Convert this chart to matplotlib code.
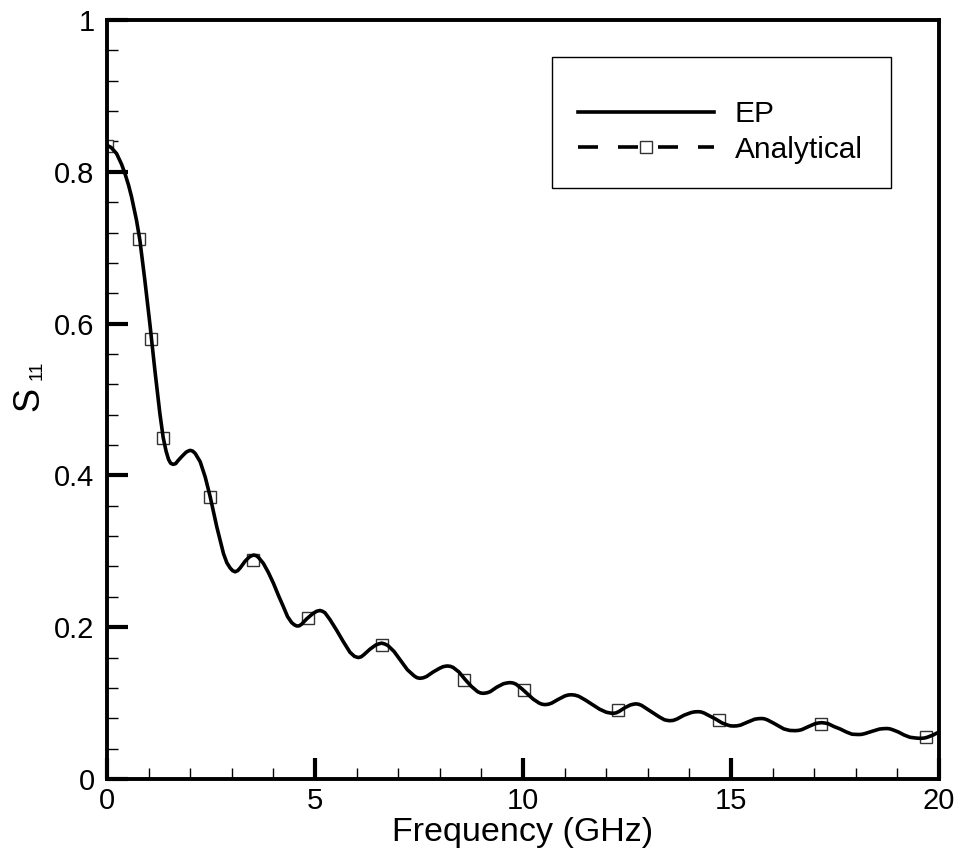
import matplotlib
matplotlib.use("Agg")
import matplotlib.pyplot as plt
from matplotlib.lines import Line2D
from matplotlib.patches import Rectangle
from matplotlib.ticker import MultipleLocator, FormatStrFormatter

plt.rcParams['font.family'] = ['Liberation Sans', 'DejaVu Sans']
plt.rcParams['lines.scale_dashes'] = False

# ---- data ----
ep_freq = [0, 0.1, 0.23, 0.35, 0.43, 0.52, 0.59, 0.71, 0.79, 0.91, 1.03, 1.15, 1.27, 1.35, 1.42, 1.48, 1.53, 1.59,
           1.65, 1.7, 1.8, 1.9, 1.95, 2.0, 2.06,
           2.12, 2.24, 2.36, 2.48, 2.64, 2.80, 2.88, 2.96, 3.02, 3.08,
           3.14, 3.2, 3.32, 3.42, 3.47, 3.52, 3.58,
           3.64, 3.76, 3.88, 4.00, 4.12, 4.24, 4.34, 4.44, 4.50, 4.56, 4.62,
           4.68, 4.80, 4.95, 5.04, 5.12, 5.18,
           5.24, 5.36, 5.52, 5.68, 5.84, 5.95, 6.04, 6.11,
           6.18, 6.32, 6.46, 6.53, 6.60, 6.67,
           6.75, 6.90, 7.06, 7.22, 7.38, 7.45, 7.52, 7.60,
           7.68, 7.84, 8.00, 8.08, 8.17, 8.25,
           8.32, 8.46, 8.61, 8.76, 8.91, 8.98, 9.05, 9.13,
           9.21, 9.37, 9.53, 9.61, 9.69, 9.76,
           9.83, 9.97, 10.11, 10.25, 10.39, 10.46, 10.53, 10.61,
           10.69, 10.85, 11.01, 11.09, 11.17, 11.25,
           11.34, 11.50, 11.67, 11.84, 12.0, 12.09, 12.17, 12.24,
           12.31, 12.45, 12.58, 12.65, 12.71, 12.78,
           12.85, 12.99, 13.13, 13.27, 13.40, 13.47, 13.53, 13.61,
           13.70, 13.87, 14.04, 14.12, 14.21, 14.28,
           14.35, 14.49, 14.63, 14.78, 14.92, 14.99, 15.06, 15.14,
           15.23, 15.40, 15.57, 15.66, 15.74, 15.80,
           15.87, 16.01, 16.14, 16.27, 16.41, 16.48, 16.54, 16.62,
           16.70, 16.86, 17.02, 17.10, 17.18, 17.25,
           17.33, 17.48, 17.62, 17.77, 17.91, 17.98, 18.06, 18.14,
           18.23, 18.40, 18.57, 18.66, 18.74, 18.81,
           18.88, 19.02, 19.16, 19.30, 19.44, 19.51, 19.58, 19.65,
           19.72, 19.86, 20.0]
ep_s11 = [0.835, 0.832, 0.824, 0.810, 0.798, 0.782, 0.767, 0.736, 0.710, 0.657, 0.600, 0.539, 0.482, 0.450, 0.432, 0.421, 0.416, 0.4145,
          0.4155, 0.419, 0.425, 0.4305, 0.432, 0.433, 0.432,
          0.429, 0.418, 0.398, 0.372, 0.332, 0.297, 0.285, 0.278, 0.2745, 0.273,
          0.2745, 0.278, 0.287, 0.2925, 0.294, 0.295, 0.2945,
          0.292, 0.284, 0.272, 0.258, 0.242, 0.227, 0.214, 0.206, 0.2033, 0.2016, 0.2018,
          0.204, 0.211, 0.218, 0.221, 0.222, 0.221,
          0.219, 0.210, 0.196, 0.181, 0.167, 0.1615, 0.160, 0.161,
          0.164, 0.171, 0.1765, 0.178, 0.179, 0.178,
          0.176, 0.168, 0.156, 0.144, 0.136, 0.1335, 0.1327, 0.1333,
          0.135, 0.141, 0.146, 0.148, 0.1489, 0.1485,
          0.147, 0.141, 0.131, 0.122, 0.115, 0.1133, 0.1129, 0.1135,
          0.115, 0.121, 0.1255, 0.1265, 0.127, 0.1265,
          0.125, 0.119, 0.112, 0.105, 0.100, 0.0985, 0.098, 0.0985,
          0.100, 0.105, 0.1095, 0.1107, 0.111, 0.1105,
          0.109, 0.104, 0.098, 0.092, 0.088, 0.087, 0.0865, 0.0872,
          0.089, 0.094, 0.0975, 0.0985, 0.099, 0.0985,
          0.097, 0.092, 0.087, 0.082, 0.078, 0.0772, 0.0768, 0.0772,
          0.079, 0.084, 0.0875, 0.0884, 0.0887, 0.0883,
          0.087, 0.083, 0.079, 0.074, 0.071, 0.070, 0.0698, 0.070,
          0.071, 0.075, 0.0788, 0.0795, 0.0797, 0.0793,
          0.078, 0.074, 0.070, 0.066, 0.064, 0.0638, 0.0637, 0.064,
          0.065, 0.069, 0.0728, 0.0738, 0.0742, 0.0738,
          0.073, 0.069, 0.066, 0.062, 0.059, 0.0588, 0.0586, 0.0588,
          0.060, 0.063, 0.0658, 0.0663, 0.0665, 0.0662,
          0.065, 0.062, 0.058, 0.055, 0.054, 0.0537, 0.0536, 0.054,
          0.055, 0.058, 0.062]

an_freq = [0, 0.78, 1.06, 1.35, 2.48, 3.50, 4.82, 6.60, 8.59, 10.03, 12.29, 14.70, 17.16, 19.69]
an_s11 = [0.834, 0.711, 0.580, 0.449, 0.372, 0.289, 0.212, 0.177, 0.131, 0.117, 0.091, 0.078, 0.073, 0.055]

series_labels = ["EP", "Analytical"]
x_label = "Frequency (GHz)"

# ---- figure ----
W, H = 962, 856
fig = plt.figure(figsize=(W / 100, H / 100), dpi=100)
L, R, B, T = 107, 939, 779, 20
ax = fig.add_axes([L / W, 1 - B / H, (R - L) / W, (B - T) / H])

an_line, = ax.plot(an_freq, an_s11, linestyle='none', marker='s', markersize=8.5,
                   markerfacecolor='white', markeredgecolor='#333333', markeredgewidth=1.0, zorder=2)
ep_line, = ax.plot(ep_freq, ep_s11, color='black', linewidth=2.6, zorder=3,
                   solid_joinstyle='round', solid_capstyle='round')

ax.set_xlim(0, 20)
ax.set_ylim(0, 1)
ax.xaxis.set_major_locator(MultipleLocator(5))
ax.xaxis.set_minor_locator(MultipleLocator(1))
ax.yaxis.set_major_locator(MultipleLocator(0.2))
ax.yaxis.set_minor_locator(MultipleLocator(0.04))
ax.xaxis.set_major_formatter(FormatStrFormatter('%g'))
ax.yaxis.set_major_formatter(FormatStrFormatter('%g'))

ax.tick_params(which='both', direction='in', top=False, right=False)
ax.tick_params(which='major', length=15, width=3, labelsize=21)
ax.tick_params(which='minor', length=8, width=1)
ax.tick_params(axis='x', which='major', pad=6)
ax.tick_params(axis='y', which='major', pad=9)
for sp in ax.spines.values():
    sp.set_linewidth(2.8)

ax.set_xlabel(x_label, fontsize=24.5, labelpad=1)

# y label S11 (S with small subscript)
fig.text(28.5 / W, 1 - 399 / H, "S", rotation=90, fontsize=26, ha='center', va='center')
fig.text(37 / W, 1 - 370 / H, "11", rotation=90, fontsize=13.5, ha='center', va='center')

# legend frame
fx0, fx1, fy0, fy1 = 552, 891, 57, 188
ax.add_patch(Rectangle(((fx0 - L) / (R - L), (B - fy1) / (B - T)),
                       (fx1 - fx0) / (R - L), (fy1 - fy0) / (B - T),
                       transform=ax.transAxes, fill=True, facecolor='white',
                       edgecolor='black', linewidth=1.0, zorder=5))

h_ep = Line2D([], [], color='black', linewidth=2.6)
h_an = Line2D([], [], color='black', linewidth=2.6, dashes=(14.4, 14.4), marker='s', markersize=8.5,
              markerfacecolor='white', markeredgecolor='#333333', markeredgewidth=1.0)
leg = ax.legend([h_ep, h_an], series_labels, loc='center left',
                bbox_to_anchor=(578 / W, 1 - 132 / H), bbox_transform=fig.transFigure,
                frameon=False, fontsize=21.5, handlelength=4.55, handletextpad=0.7,
                labelspacing=0.25, borderpad=0, borderaxespad=0, numpoints=1)
leg.set_zorder(6)

fig.savefig("out.png", dpi=100)
